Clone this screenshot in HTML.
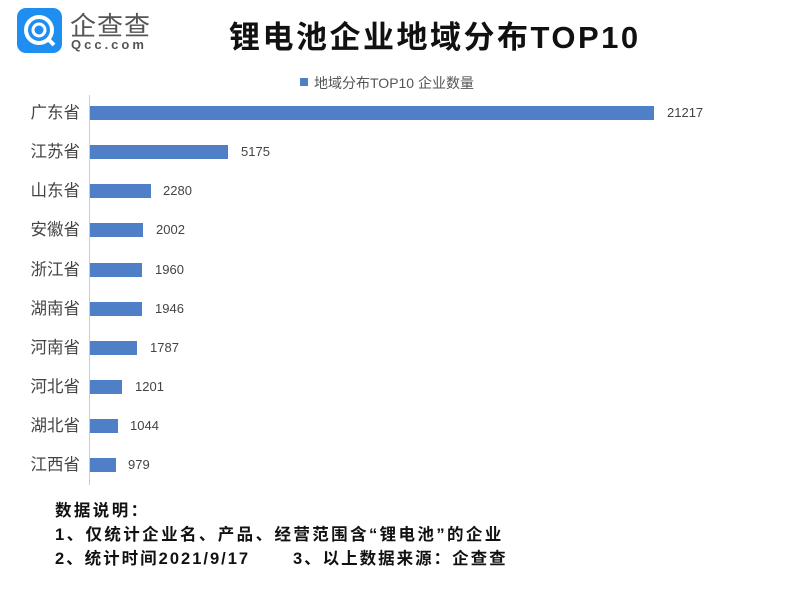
<!DOCTYPE html>
<html><head><meta charset="utf-8"><style>
body{margin:0;width:800px;height:596px;background:#fff;position:relative;overflow:hidden;font-family:"Liberation Sans","Noto Sans CJK SC",sans-serif}
.a{position:absolute;white-space:nowrap}
.lab{font-size:16.5px;color:#444;width:62px;left:18px;text-align:right;line-height:16px}
.bar{position:absolute;left:90px;height:14px;background:#4f7fc6}
.val{font-size:13px;color:#444;line-height:14px}
.n{font-size:16.5px;font-weight:bold;color:#111;left:55px;letter-spacing:2.4px}
</style></head><body>
<div class="a" style="left:17px;top:8px;width:45px;height:45px;border-radius:9px;background:#1f8ef1"></div>
<svg class="a" style="left:17px;top:8px" width="45" height="45"><circle cx="22" cy="22" r="13" fill="none" stroke="#fff" stroke-width="4"/><circle cx="22" cy="22" r="6" fill="none" stroke="#fff" stroke-width="3"/><line x1="30" y1="30" x2="37" y2="37" stroke="#fff" stroke-width="4"/></svg>
<div class="a" style="left:70px;top:6px;font-size:26px;color:#555;letter-spacing:1px">企查查</div>
<div class="a" style="left:71px;top:37px;font-size:13px;color:#555;letter-spacing:3px;font-weight:bold">Qcc.com</div>
<div class="a" style="left:229px;top:12px;font-size:31px;font-weight:bold;color:#111;letter-spacing:2.5px">锂电池企业地域分布TOP10</div>
<div class="a" style="left:300px;top:78px;width:8px;height:8px;background:#4f7fc6"></div>
<div class="a" style="left:314px;top:73px;font-size:14px;color:#555">地域分布TOP10 企业数量</div>
<div class="a" style="left:89px;top:95px;width:1px;height:390px;background:#ccc"></div>
<div class="a lab" style="top:105px">广东省</div><div class="bar" style="top:106px;width:564px"></div><div class="a val" style="left:667px;top:106px">21217</div>
<div class="a lab" style="top:144px">江苏省</div><div class="bar" style="top:145px;width:138px"></div><div class="a val" style="left:241px;top:145px">5175</div>
<div class="a lab" style="top:183px">山东省</div><div class="bar" style="top:184px;width:61px"></div><div class="a val" style="left:163px;top:184px">2280</div>
<div class="a lab" style="top:222px">安徽省</div><div class="bar" style="top:223px;width:53px"></div><div class="a val" style="left:156px;top:223px">2002</div>
<div class="a lab" style="top:262px">浙江省</div><div class="bar" style="top:263px;width:52px"></div><div class="a val" style="left:155px;top:263px">1960</div>
<div class="a lab" style="top:301px">湖南省</div><div class="bar" style="top:302px;width:52px"></div><div class="a val" style="left:155px;top:302px">1946</div>
<div class="a lab" style="top:340px">河南省</div><div class="bar" style="top:341px;width:47px"></div><div class="a val" style="left:150px;top:341px">1787</div>
<div class="a lab" style="top:379px">河北省</div><div class="bar" style="top:380px;width:32px"></div><div class="a val" style="left:135px;top:380px">1201</div>
<div class="a lab" style="top:418px">湖北省</div><div class="bar" style="top:419px;width:28px"></div><div class="a val" style="left:130px;top:419px">1044</div>
<div class="a lab" style="top:457px">江西省</div><div class="bar" style="top:458px;width:26px"></div><div class="a val" style="left:128px;top:458px">979</div>
<div class="a n" style="top:497px">数据说明：</div>
<div class="a n" style="top:521px">1、仅统计企业名、产品、经营范围含“锂电池”的企业</div>
<div class="a n" style="top:545px;letter-spacing:2px">2、统计时间2021/9/17</div>
<div class="a n" style="top:545px;left:293px;letter-spacing:2px">3、以上数据来源：企查查</div>
</body></html>
